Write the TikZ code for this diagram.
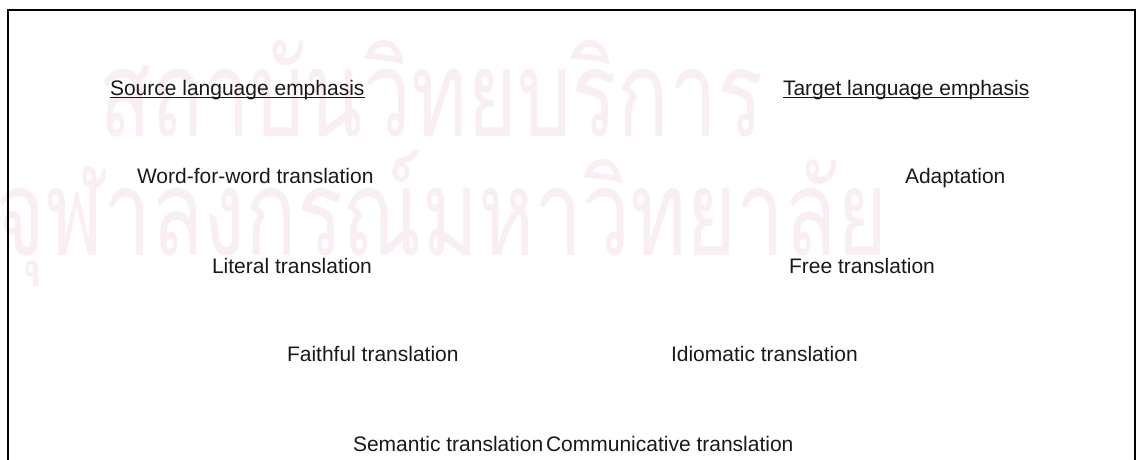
\documentclass[tikz,border=0pt]{standalone}
\usepackage{fontspec}
\setmainfont{Liberation Sans}
\newfontfamily\thaifont[Script=Thai]{Loma}
\definecolor{wm}{RGB}{249,238,243}
\definecolor{txt}{RGB}{25,25,25}
\newsavebox\wmrowB
\newlength\wmW
\newlength\wmH
\newcommand\myul[1]{\setbox0\hbox{#1}\rlap{\rule[-3.4pt]{\wd0}{1.3pt}}\box0}
\tikzset{
  lbl/.style={anchor=base west, inner sep=0pt, outer sep=0pt, text=txt, font=\fontsize{21}{25}\selectfont},
  frame/.style={line width=2pt, draw=black},
  wmark/.style={inner sep=0pt, outer sep=0pt}
}
\begin{document}
\sbox\wmrowB{\thaifont จุฬาลงกรณ์มหาวิทยาลัย}%
\setlength\wmW{\wd\wmrowB}%
\setlength\wmH{\ht\wmrowB}%
\begin{tikzpicture}[x=1pt,y=1pt]
\useasboundingbox (0,0) rectangle (1142,-460);
\pgfmathsetmacro\sx{892/\wmW}
\pgfmathsetmacro\sy{105/\wmH}
% watermark
\begin{scope}
\clip (0,0) rectangle (1142,-460);
\node[wmark, anchor=base west] (wmB) at (-5,-255) {\scalebox{\sx}[\sy]{\color{wm}\thaifont จุฬาลงกรณ์มหาวิทยาลัย}};
\node[wmark, anchor=base east] (wmA) at (763,-136) {\scalebox{\sx}[\sy]{\color{wm}\thaifont สถาบันวิทยบริการ}};
\end{scope}
% frame
\coordinate (bl) at (8,-461);
\coordinate (tl) at (8,-10.5);
\coordinate (tr) at (1135,-10.5);
\coordinate (br) at (1135,-461);
\draw[frame] (bl) -- (tl) -- (tr) -- (br);
% labels
\node[lbl] (src) at (110,-95) {\myul{Source language emphasis}};
\node[lbl] (tgt) at (783,-95) {\myul{Target language emphasis}};
\node[lbl] (wfw) at (137,-183) {Word-for-word translation};
\node[lbl] (ada) at (905,-183) {Adaptation};
\node[lbl] (lit) at (212,-273) {Literal translation};
\node[lbl] (fre) at (789,-273) {Free translation};
\node[lbl] (fai) at (287,-361) {Faithful translation};
\node[lbl] (idi) at (671,-361) {Idiomatic translation};
\node[lbl] (sem) at (353,-451) {Semantic translation};
\node[lbl] (com) at (546,-451) {Communicative translation};
\end{tikzpicture}
\end{document}
